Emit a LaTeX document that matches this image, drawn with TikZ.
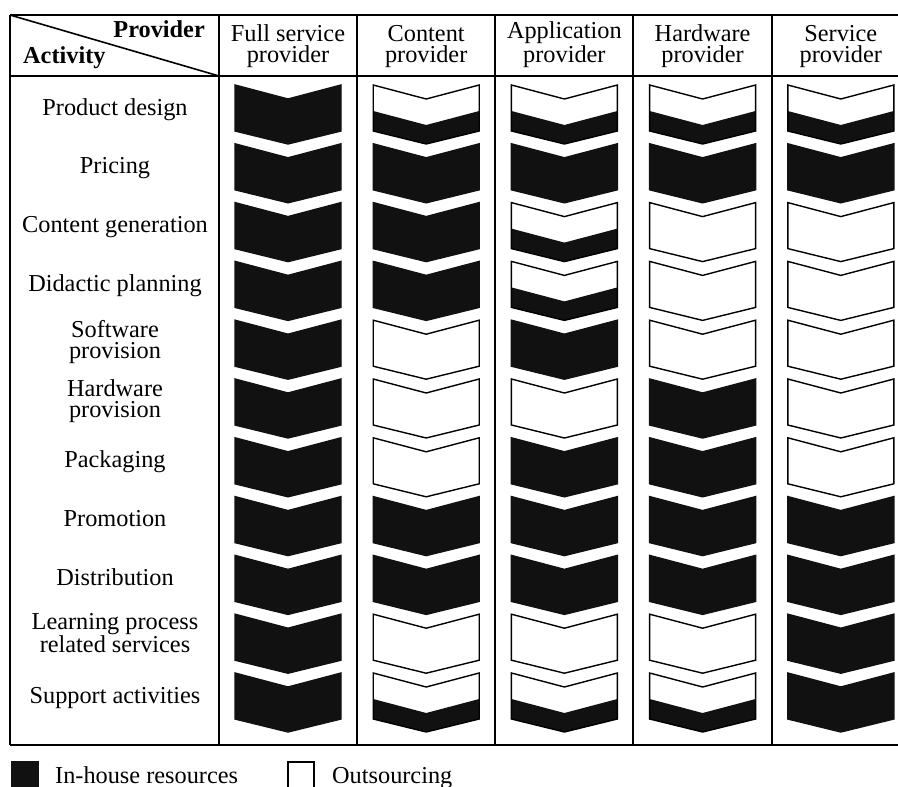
\documentclass[tikz,border=0pt]{standalone}
\usepackage{fontspec}
\setmainfont{Liberation Serif}

% chevron of width 106 whose top-left corner is at height #2, centred on #1
\newcommand\chevB[2]{%
  \filldraw[chevline,fill=chevblack,draw=chevblack]
    (#1-53,#2) -- (#1,#2+14) -- (#1+53,#2) -- (#1+53,#2+46)
    -- (#1,#2+59) -- (#1-53,#2+46) -- cycle;}
\newcommand\chevW[2]{%
  \draw[chevline]
    (#1-53,#2) -- (#1,#2+14) -- (#1+53,#2) -- (#1+53,#2+46)
    -- (#1,#2+59) -- (#1-53,#2+46) -- cycle;}
\newcommand\chevH[2]{%
  \fill[chevblack]
    (#1-53,#2+26) -- (#1,#2+40) -- (#1+53,#2+26) -- (#1+53,#2+46)
    -- (#1,#2+59) -- (#1-53,#2+46) -- cycle;
  \chevW{#1}{#2}}

\definecolor{chevblack}{HTML}{111111}

\begin{document}
\begin{tikzpicture}[x=1pt,y=-1pt,
  rule/.style={line width=2pt},
  chevline/.style={line width=1.4pt,line join=miter},
  lbl/.style={font=\fontsize{24.3}{20.5}\selectfont,align=center,anchor=base,inner sep=0pt},
  headlbl/.style={lbl,font=\fontsize{24.3}{20.5}\selectfont\bfseries},
]
\useasboundingbox (0,0) rectangle (898,787);

% table rules
\draw[rule] (10,15) -- (910,15);
\draw[rule] (10,76) -- (910,76);
\draw[rule] (10,745) -- (910,745);
\draw[rule] (10,15) -- (10,745);
\foreach \x in {219,357,495,633,772} \draw[rule] (\x,15) -- (\x,745);
\draw[line width=1.6pt] (10,15) -- (219,76);

% corner cell
\node[headlbl,anchor=base east] (prov) at (205,37) {Provider};
\node[headlbl,anchor=base west] (act) at (23,63) {Activity};

% provider headings (base anchor sits on the last line)
\foreach \txt [count=\j] in {Full service,Content,Application,Hardware,Service}{
  \pgfmathsetmacro\cx{288+138.2*(\j-1)}
  \node[lbl] (head\j) at (\cx,62) {\txt\\provider};
}

% activity names
\foreach \txt/\two [count=\i] in {
  Product design/0, Pricing/0, Content generation/0, Didactic planning/0,
  Software\\provision/1, Hardware\\provision/1, Packaging/0, Promotion/0,
  Distribution/0, Learning process\\related services/1, Support activities/0}{
  \pgfmathsetmacro\ty{85+58.8*(\i-1)+30+8*\two}
  \node[lbl] (act\i) at (115,\ty) {\txt};
}

% resource chevrons: B in-house, W outsourced, H partly in-house
\foreach \row [count=\i] in {
  {B,H,H,H,H},{B,B,B,B,B},{B,B,H,W,W},{B,B,H,W,W},
  {B,W,B,W,W},{B,W,W,B,W},{B,W,B,B,W},{B,B,B,B,B},
  {B,B,B,B,B},{B,W,W,W,B},{B,H,H,H,B}}{
  \pgfmathsetmacro\ty{85+58.8*(\i-1)}
  \foreach \k [count=\j] in \row {
    \pgfmathsetmacro\cx{288+138.2*(\j-1)}
    \csname chev\k\endcsname{\cx}{\ty}
  }
}

% legend
\fill[chevblack] (11,761) rectangle (39,790);
\node[lbl,anchor=base west] (inhouse) at (55,783) {In-house resources};
\draw[line width=1.5pt] (288,762) rectangle (314,790);
\node[lbl,anchor=base west] (outsrc) at (332,783) {Outsourcing};
\end{tikzpicture}
\end{document}
